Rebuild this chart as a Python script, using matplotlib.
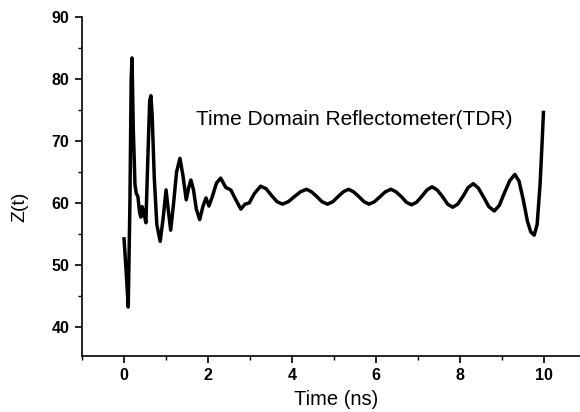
import matplotlib
matplotlib.use("Agg")
import matplotlib.pyplot as plt
from matplotlib.ticker import MultipleLocator

time_ns = [0.00, 0.05, 0.10, 0.14, 0.17, 0.19, 0.22, 0.26, 0.29, 0.33, 0.37, 0.40, 0.43, 0.47,
           0.52, 0.57, 0.61, 0.64, 0.67, 0.72, 0.78, 0.86, 0.93, 1.00, 1.05, 1.11, 1.18, 1.25,
           1.33, 1.40, 1.48, 1.54, 1.59, 1.65, 1.72, 1.80, 1.88, 1.95, 2.02, 2.10, 2.20, 2.30,
           2.42, 2.54, 2.66, 2.78, 2.88, 2.98, 3.10, 3.25, 3.38, 3.51, 3.64, 3.77, 3.91, 4.05,
           4.20, 4.34, 4.46, 4.59, 4.71, 4.84, 4.97, 5.09, 5.22, 5.34, 5.46, 5.59, 5.71, 5.83,
           5.96, 6.09, 6.22, 6.35, 6.47, 6.60, 6.72, 6.84, 6.96, 7.09, 7.21, 7.33, 7.45, 7.58,
           7.70, 7.82, 7.94, 8.07, 8.19, 8.31, 8.43, 8.56, 8.68, 8.81, 8.93, 9.05, 9.18, 9.30,
           9.40, 9.50, 9.60, 9.68, 9.76, 9.83, 9.90, 9.95, 9.98]
z_t = [54.2, 49.0, 43.2, 60.0, 80.0, 83.4, 72.0, 63.0, 61.6, 61.0, 58.5, 57.7, 59.4, 58.5,
       56.8, 68.0, 76.5, 77.3, 74.0, 64.0, 56.5, 53.8, 57.5, 62.1, 59.0, 55.6, 60.0, 65.0,
       67.2, 64.5, 60.5, 62.5, 63.7, 62.2, 59.0, 57.3, 59.5, 60.8, 59.5, 61.0, 63.2, 64.0,
       62.5, 62.1, 60.5, 59.0, 59.8, 60.0, 61.5, 62.7, 62.3, 61.2, 60.2, 59.8, 60.2, 61.0,
       61.8, 62.2, 61.8, 61.0, 60.2, 59.8, 60.2, 61.0, 61.8, 62.2, 61.8, 61.0, 60.2, 59.8,
       60.2, 61.0, 61.8, 62.2, 61.8, 61.0, 60.1, 59.7, 60.1, 61.1, 62.1, 62.6, 62.1, 61.0,
       59.8, 59.3, 59.8, 61.1, 62.5, 63.1, 62.4, 60.9, 59.4, 58.7, 59.6, 61.6, 63.6, 64.6,
       63.5, 60.5, 57.0, 55.3, 54.8, 56.5, 63.0, 70.0, 74.6]

x_ticks = [0, 2, 4, 6, 8, 10]
y_ticks = [40, 50, 60, 70, 80, 90]
annotation = "Time Domain Reflectometer(TDR)"

plt.rcParams['font.family'] = ['Liberation Sans', 'DejaVu Sans']
fig = plt.figure(figsize=(5.8, 4.12), dpi=100)
ax = fig.add_axes([0.1414, 0.136, 0.8586, 0.8227])
ax.plot(time_ns, z_t, color='black', linewidth=2.5, solid_joinstyle='round')

ax.set_xlim(-1.0, 10.85)
ax.set_ylim(35.3, 90)
ax.set_xticks(x_ticks)
ax.set_yticks(y_ticks)
ax.xaxis.set_minor_locator(MultipleLocator(1))
ax.yaxis.set_minor_locator(MultipleLocator(5))
for s in ['top', 'right']:
    ax.spines[s].set_visible(False)
for s in ['left', 'bottom']:
    ax.spines[s].set_linewidth(1.2)
ax.tick_params(which='major', direction='out', length=5, width=1.2, labelsize=11.5, pad=4)
ax.tick_params(which='minor', direction='out', length=3, width=1.0)
for lab in ax.get_xticklabels() + ax.get_yticklabels():
    lab.set_fontweight('bold')
xl = ax.set_xlabel('Time (ns)', fontsize=14.5)
xl.set_va('center')
ax.xaxis.set_label_coords(0.51, -0.127)
yl = ax.set_ylabel('Z(t)', fontsize=14)
yl.set_va('center')
ax.yaxis.set_label_coords(-0.125, 0.44)
ax.text(1.72, 73.4, annotation, fontsize=15, va='center', ha='left')

fig.savefig('out.png', dpi=100)
